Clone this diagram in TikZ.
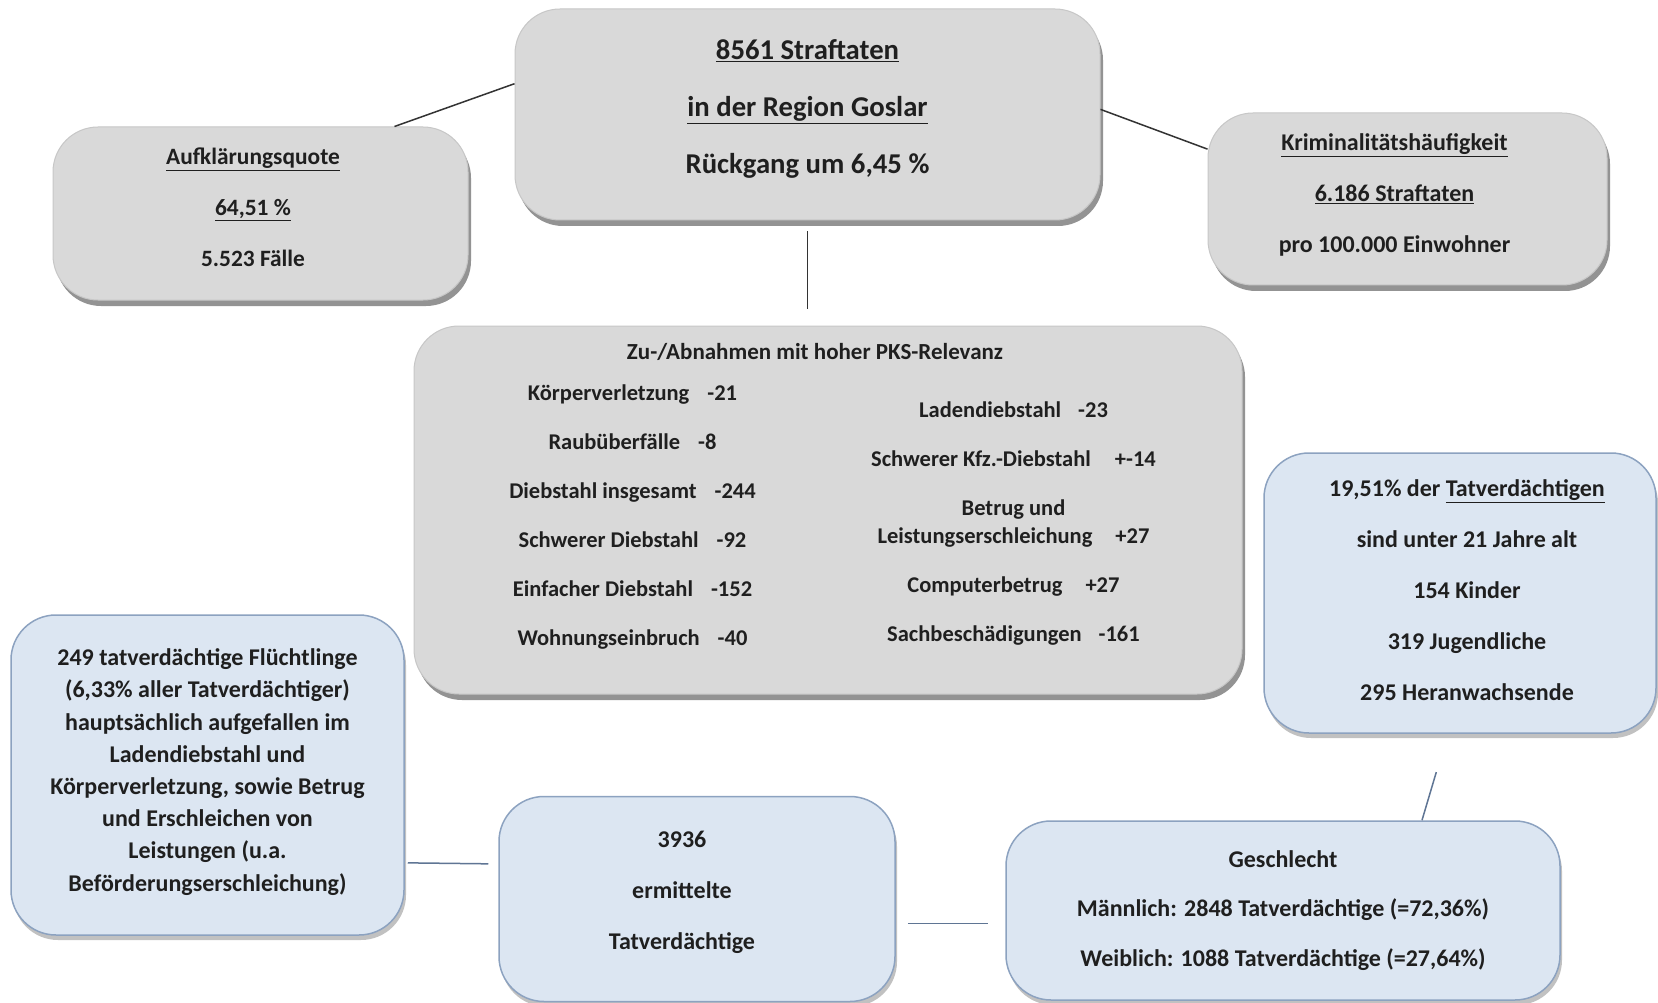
\documentclass[tikz,border=0pt]{standalone}
\usepackage{fontspec}
\setmainfont{Carlito}
\usetikzlibrary{shadows}

\definecolor{boxgray}{HTML}{D9D9D9}
\definecolor{boxblue}{HTML}{DCE6F2}
\definecolor{rimblue}{HTML}{8CA2C0}
\definecolor{linkblue}{HTML}{5F7594}

% extra depth below the last line, pushes the text up in its box
\newcommand{\padbelow}[1]{\rule[-#1]{0pt}{#1}}
% moves a line sideways by half the amount
\newcommand{\nudge}[1]{\hspace*{#1}}

\tikzset{
    graybox/.style={rounded corners=45pt, fill=boxgray, draw=black!22, line width=1pt,
        align=center, text=black!88,
        drop shadow={shadow xshift=3pt, shadow yshift=-6pt, fill=black!60, opacity=0.7}},
    bluebox/.style={rounded corners=45pt, fill=boxblue, draw=rimblue, line width=1.5pt,
        align=center, text=black!88,
        drop shadow={shadow xshift=2pt, shadow yshift=-5pt, fill=black!40, opacity=0.6}},
    link/.style={draw=black!80, line width=1.5pt},
    bluelink/.style={draw=linkblue, line width=1.5pt}
}

\begin{document}
\begin{tikzpicture}[x=1pt, y=-1pt]

\fill[white] (0,0) rectangle (1658,1003);
\useasboundingbox (0,0) rectangle (1658,1003);

% top row
\node[graybox, minimum width=585pt, minimum height=211pt,
      font=\bfseries\fontsize{28.7}{56.6}\selectfont] (total) at (807.5,114.5)
    {\underline{8561 Straftaten}\\\underline{in der Region Goslar}\\Rückgang um 6,45 \%\padbelow{16pt}};

\node[graybox, minimum width=415pt, minimum height=173pt,
      font=\bfseries\fontsize{23.4}{51}\selectfont] (quote) at (260.5,213.5)
    {\nudge{-15pt}\underline{Aufklärungsquote}\\\nudge{-15pt}\underline{64,51 \%}\\
     \nudge{-15pt}5.523 Fälle\padbelow{12pt}};

\node[graybox, minimum width=399pt, minimum height=172pt,
      font=\bfseries\fontsize{24}{51}\selectfont] (rate) at (1407.5,199)
    {\nudge{-26pt}\underline{Kriminalitätshäufigkeit}\\\nudge{-26pt}\underline{6.186 Straftaten}\\
     \nudge{-26pt}pro 100.000 Einwohner\padbelow{11pt}};

% changes
\node[graybox, minimum width=828pt, minimum height=368pt,
      font=\bfseries\fontsize{23}{41}\selectfont] (pks) at (828,510)
    {\nudge{-26pt}Zu-/Abnahmen mit hoher PKS-Relevanz\\
     \nudge{-10pt}%
     \parbox[t]{381pt}{\centering\fontsize{22.5}{49}\selectfont
        Körperverletzung\hspace{18pt}-21\\
        Raubüberfälle\hspace{18pt}-8\\
        Diebstahl insgesamt\hspace{18pt}-244\\
        Schwerer Diebstahl\hspace{18pt}-92\\
        Einfacher Diebstahl\hspace{18pt}-152\\
        Wohnungseinbruch\hspace{18pt}-40}%
     \raisebox{-17pt}{\parbox[t]{381pt}{\centering\fontsize{22.5}{49}\selectfont
        Ladendiebstahl\hspace{17pt}-23\\
        Schwerer Kfz.-Diebstahl\hspace{24pt}+-14\\
        Betrug und\\[-21pt]
        Leistungserschleichung\hspace{23pt}+27\\
        Computerbetrug\hspace{23pt}+27\\
        Sachbeschädigungen\hspace{17pt}-161}}\padbelow{276pt}};

% suspects
\node[bluebox, minimum width=393pt, minimum height=320pt,
      font=\bfseries\fontsize{24}{32.2}\selectfont] (flee) at (207.5,775)
    {249 tatverdächtige Flüchtlinge\\(6,33\% aller Tatverdächtiger)\\
     hauptsächlich\ aufgefallen im\\Ladendiebstahl\ und\\
     Körperverletzung, sowie Betrug\\und Erschleichen von\\
     Leistungen (u.a.\\Beförderungserschleichung)\padbelow{10pt}};

\node[bluebox, minimum width=396pt, minimum height=205pt,
      font=\bfseries\fontsize{24}{50.8}\selectfont] (susp) at (697,899)
    {\nudge{-30pt}3936\\\nudge{-30pt}ermittelte\\\nudge{-30pt}Tatverdächtige\padbelow{17pt}};

\node[bluebox, minimum width=554pt, minimum height=179pt,
      font=\bfseries\fontsize{24}{49.7}\selectfont] (sex) at (1283,910.5)
    {Geschlecht\\Männlich: 2848 Tatverdächtige (=72,36\%)\\Weiblich: 1088 Tatverdächtige (=27,64\%)};

\node[bluebox, minimum width=392pt, minimum height=280pt,
      font=\bfseries\fontsize{24}{51}\selectfont] (young) at (1460,593)
    {\nudge{14pt}19,51\% der \underline{Tatverdächtigen}\\\nudge{14pt}sind unter 21 Jahre alt\\
     \nudge{14pt}154 Kinder\\\nudge{14pt}319 Jugendliche\\\nudge{14pt}295 Heranwachsende\padbelow{5pt}};

% connectors
\draw[link] (quote.33) -- (total.174);
\draw[link] (total.1) -- (rate.166);
\draw[link, shorten <=11pt, shorten >=17pt] (total.south) -- (total.south |- pks.north);
\draw[bluelink, shorten <=3pt, shorten >=10pt] (flee.-24) -- (susp.170);
\draw[bluelink, shorten <=12pt, shorten >=17pt] (susp.-7) -- (susp.-7 -| sex.west);
\draw[bluelink, shorten <=40pt] (young.-95) -- (sex.33);

\end{tikzpicture}
\end{document}
